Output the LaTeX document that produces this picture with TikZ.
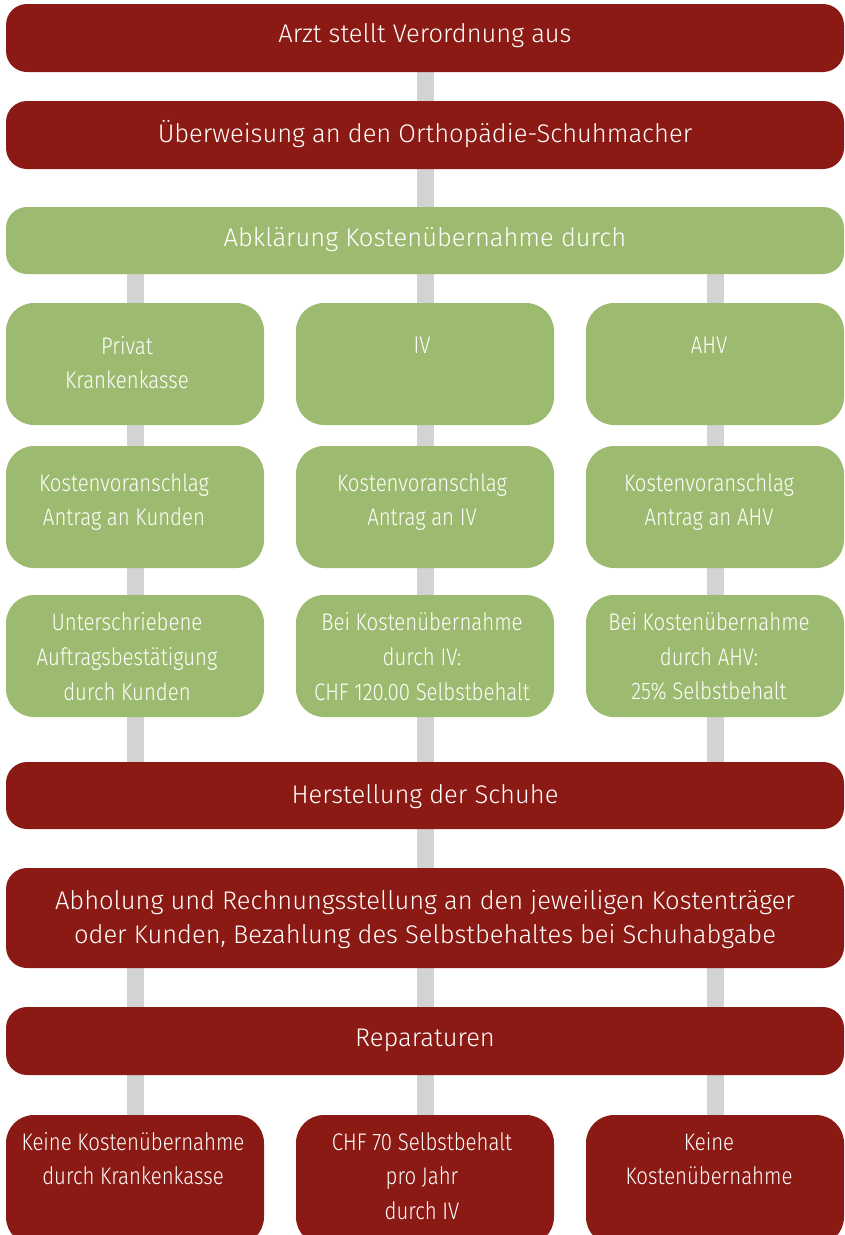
\documentclass[tikz,border=0pt]{standalone}
\usepackage{fontspec}
\setmainfont{Fira Sans Light}
\newfontfamily\condfont{Fira Sans Light}[FakeStretch=0.85]
\usetikzlibrary{backgrounds}
\definecolor{dred}{HTML}{8C1A14}
\definecolor{lgreen}{HTML}{9DBB70}
\definecolor{bargray}{HTML}{D3D3D3}
\tikzset{
  widebox/.style={rectangle, rounded corners=21pt, minimum width=838pt, inner sep=0pt},
  redwide/.style={widebox, fill=dred},
  greenwide/.style={widebox, fill=lgreen},
  widetext/.style={text=white, align=center, inner sep=0pt, font=\fontsize{25.5}{34}\selectfont},
  colbox/.style={rectangle, rounded corners=28pt, minimum width=258pt, inner sep=0pt},
  greencol/.style={colbox, fill=lgreen, minimum height=122pt},
  redcol/.style={colbox, fill=dred, minimum height=130pt},
  coltext/.style={text=white, align=center, inner sep=0pt, font=\condfont\fontsize{24}{34.7}\selectfont},
  bar/.style={draw=bargray, line width=17pt}
}
\begin{document}
\begin{tikzpicture}[x=1pt,y=-1pt]
\useasboundingbox (0,0) rectangle (845,1235);
% wide boxes
\node[redwide, minimum height=68pt] (b1) at (425,38) {};
\node[widetext] (l1) at (425,36) {Arzt stellt Verordnung aus};
\node[redwide, minimum height=68pt] (b2) at (425,135) {};
\node[widetext] (l2) at (425,134) {Überweisung an den Orthopädie-Schuhmacher};
\node[greenwide, minimum height=67pt] (b3) at (425,240.5) {};
\node[widetext] (l3) at (425,240) {Abklärung Kostenübernahme durch};
% green columns
\node[greencol] (g11) at (135,364) {};
\node[greencol] (g12) at (425,364) {};
\node[greencol] (g13) at (715,364) {};
\node[greencol] (g21) at (135,507) {};
\node[greencol] (g22) at (425,507) {};
\node[greencol] (g23) at (715,507) {};
\node[greencol] (g31) at (135,656) {};
\node[greencol] (g32) at (425,656) {};
\node[greencol] (g33) at (715,656) {};
\node[coltext] (t11) at (127,362.5) {Privat\\Krankenkasse};
\node[coltext] (t12) at (422,345) {IV};
\node[coltext] (t13) at (709,345) {AHV};
\node[coltext] (t21) at (124,502) {Kostenvoranschlag\\Antrag an Kunden};
\node[coltext] (t22) at (422,502) {Kostenvoranschlag\\Antrag an IV};
\node[coltext] (t23) at (709,502) {Kostenvoranschlag\\Antrag an AHV};
\node[coltext] (t31) at (127,656.5) {Unterschriebene\\Auftragsbestätigung\\durch Kunden};
\node[coltext] (t32) at (422,656.5) {Bei Kostenübernahme\\durch IV:\\CHF 120.00 Selbstbehalt};
\node[coltext] (t33) at (709,656.5) {Bei Kostenübernahme\\durch AHV:\\25\% Selbstbehalt};
% lower wide boxes
\node[redwide, minimum height=67pt] (her) at (425,795.5) {};
\node[widetext] (l4) at (425,797) {Herstellung der Schuhe};
\node[redwide, minimum height=100pt] (abh) at (425,918) {};
\node[widetext] (l5) at (425,919) {Abholung und Rechnungsstellung an den jeweiligen Kostenträger\\oder Kunden, Bezahlung des Selbstbehaltes bei Schuhabgabe};
\node[redwide, minimum height=68pt] (rep) at (425,1041) {};
\node[widetext] (l6) at (425,1040) {Reparaturen};
% bottom columns
\node[redcol] (r1) at (135,1180) {};
\node[redcol] (r2) at (425,1180) {};
\node[redcol] (r3) at (715,1180) {};
\node[coltext] (u1) at (133,1158.5) {Keine Kostenübernahme\\durch Krankenkasse};
\node[coltext] (u2) at (422,1176) {CHF 70 Selbstbehalt\\pro Jahr\\durch IV};
\node[coltext] (u3) at (709,1158.5) {Keine\\Kostenübernahme};
% connectors
\begin{scope}[on background layer]
\draw[bar] (b1) -- (b2);
\draw[bar] (b2) -- (b3);
\draw[bar] (b3.center -| g11) -- (g11);
\draw[bar] (b3.center -| g12) -- (g12);
\draw[bar] (b3.center -| g13) -- (g13);
\draw[bar] (g11) -- (g21);
\draw[bar] (g12) -- (g22);
\draw[bar] (g13) -- (g23);
\draw[bar] (g21) -- (g31);
\draw[bar] (g22) -- (g32);
\draw[bar] (g23) -- (g33);
\draw[bar] (g31) -- (g31 |- her.center);
\draw[bar] (g32) -- (g32 |- her.center);
\draw[bar] (g33) -- (g33 |- her.center);
\draw[bar] (her) -- (abh);
\draw[bar] (abh.center -| r1) -- (r1);
\draw[bar] (abh.center -| r2) -- (r2);
\draw[bar] (abh.center -| r3) -- (r3);
\end{scope}
\end{tikzpicture}
\end{document}
